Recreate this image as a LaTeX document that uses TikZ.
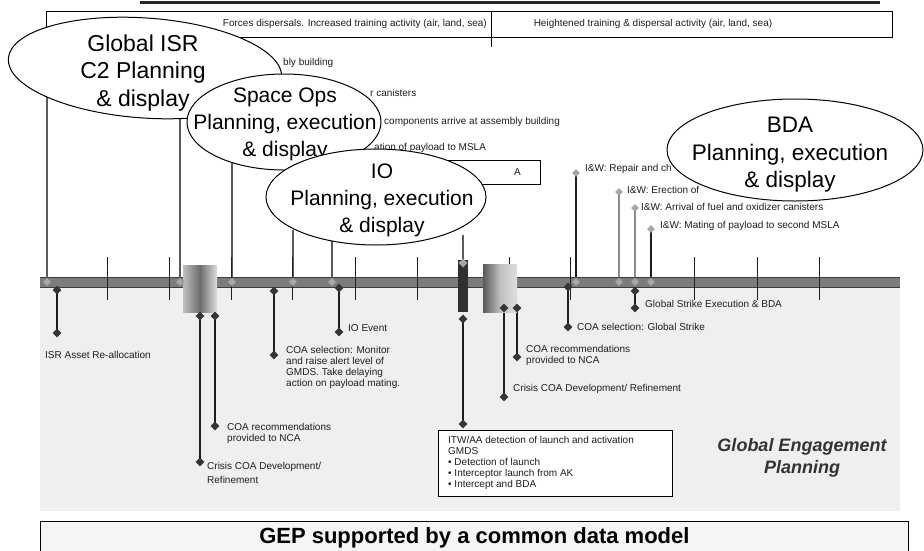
\documentclass[tikz,border=0pt]{standalone}
\usepackage{fontspec}
\setmainfont{Liberation Sans}
\usetikzlibrary{shapes.geometric}
\definecolor{bgfill}{HTML}{EFEFEF}
\definecolor{barfill}{HTML}{7C7C7C}
\definecolor{bardark}{HTML}{3C3C3C}
\definecolor{ink}{HTML}{1E1E1E}
\definecolor{ptrgray}{HTML}{5A5A5A}
\definecolor{ltdiam}{HTML}{A8A8A8}
\definecolor{midgray}{HTML}{8A8A8A}
\pgfdeclarelayer{back}
\pgfdeclarelayer{lines}
\pgfsetlayers{back,lines,main}
\begin{document}
\begin{tikzpicture}[x=1pt,y=-1pt,
  sm/.style={font=\fontsize{10}{11}\selectfont, text=ink, inner sep=0pt, anchor=west, align=left},
  bigtxt/.style={font=\fontsize{21}{27}\selectfont, align=center, inner sep=0pt},
  ddia/.style={diamond, fill=ink!90, inner sep=0pt, minimum width=9pt, minimum height=9pt},
  ldia/.style={diamond, fill=ltdiam, draw=gray, line width=0.4pt, inner sep=0pt, minimum width=9pt, minimum height=9pt},
  gdia/.style={diamond, fill=gray!70, inner sep=0pt, minimum width=8pt, minimum height=8pt},
  evl/.style={line width=2.2pt, draw=ink},
  evg/.style={line width=2pt, draw=midgray},
  ptr/.style={line width=1.3pt, draw=ptrgray},
  tickl/.style={line width=0.8pt, draw=ink},
  bubble/.style={draw=black, line width=1pt, fill=white},
]
\useasboundingbox (0,0) rectangle (924,550);

\begin{pgfonlayer}{back}
\fill[white] (0,0) rectangle (924,550);
\fill[bgfill] (40,287) rectangle (900,511);
\end{pgfonlayer}

% top line and box
\draw[line width=3pt, draw=gray!30!black] (140,2) -- (880,2);
\node[draw=black, line width=0.7pt, fill=white, minimum width=846pt, minimum height=26pt, anchor=north west, inner sep=0pt] (topbox) at (46,11) {};
\draw[line width=0.7pt] (491,11) -- (491,47);
\node[sm, anchor=east] (forces) at (487,24) {Forces dispersals. Increased training activity (air, land, sea)};
\node[sm, anchor=center] (heighten) at (653,24) {Heightened training \& dispersal activity (air, land, sea)};

% upper event labels (partly hidden)
\node[sm] (ev1) at (283,63) {bly building};
\node[sm] (ev2) at (370,93) {r canisters};
\node[sm] (ev3) at (384,122) {components arrive at assembly building};
\node[sm] (ev4) at (374,148) {ation of payload to MSLA};
\node[draw=black, line width=0.7pt, fill=white, minimum width=110pt, minimum height=24pt, anchor=north west, inner sep=0pt] (mslabox) at (430,160) {};
\node[sm] (ev5) at (514,172) {A};

% timeline bar
\fill[barfill] (40,277) rectangle (900,287);
\draw[bardark, line width=1pt] (40,277) -- (900,277) (40,287) -- (900,287);
\foreach \x in {107,169,231,292,355,417,509,570,694,757,819}
  \draw[tickl] (\x,257) -- (\x,300);

% cylinders and dark bar
\shade[left color=gray!50, right color=gray!25, middle color=gray!85!black] (183,265) rectangle (217,312);
\shade[left color=gray!70!black, right color=gray!25, middle color=gray!50] (483,264) rectangle (517,312);
\fill[bardark!80!black] (458,260) rectangle (468,312);

% upper pointers
\coordinate (u1) at (47,12);
\coordinate (u2) at (180,110);
\coordinate (u3) at (232,160);
\coordinate (u4) at (293,230);
\coordinate (u5) at (332,240);
\coordinate (u6) at (463,235);
\node[ldia] (d1) at (47,282) {};
\node[ldia] (d2) at (180,282) {};
\node[ldia] (d3) at (232,282) {};
\node[ldia] (d4) at (293,282) {};
\node[ldia] (d5) at (332,282) {};
\node[ldia] (d6) at (463,263) {};
\begin{pgfonlayer}{lines}
\draw[ptr] (u1) -- (d1.center);
\draw[ptr] (u2) -- (d2.center);
\draw[ptr] (u3) -- (d3.center);
\draw[ptr] (u4) -- (d4.center);
\draw[ptr] (u5) -- (d5.center);
\draw[ptr] (u6) -- (d6.center);
\end{pgfonlayer}

% I&W events
\node[gdia] (r1t) at (576,173) {};
\node[gdia] (r2t) at (619,192) {};
\node[gdia] (r3t) at (635,208) {};
\node[gdia] (r4t) at (651,229) {};
\node[ldia] (r1) at (576,282) {};
\node[ldia] (r2) at (619,282) {};
\node[ldia] (r3) at (635,282) {};
\node[ldia] (r4) at (651,282) {};
\begin{pgfonlayer}{lines}
\draw[evl, line width=2pt] (r1t.center) -- (r1.center);
\draw[evg] (r2t.center) -- (r2.center);
\draw[evg] (r3t.center) -- (r3.center);
\draw[evl, line width=2pt] (r4t.center) -- (r4.center);
\end{pgfonlayer}
\node[sm] (iw1) at (585,169) {I\&W: Repair and ch};
\node[sm] (iw2) at (627,190) {I\&W: Erection of};
\node[sm] (iw3) at (641,207) {I\&W: Arrival of fuel and oxidizer canisters};
\node[sm] (iw4) at (660,226) {I\&W: Mating of payload to second MSLA};

% lower events
\node[ddia] (a1) at (57,290) {};
\node[ddia] (a2) at (57,333) {};
\node[sm] (la) at (45,355) {ISR Asset Re-allocation};

\node[ddia] (c1a) at (200,316) {};
\node[ddia] (c1b) at (215,316) {};
\node[ddia] (c1a2) at (200,462) {};
\node[ddia] (c1b2) at (215,426) {};
\node[sm] (lc1b) at (227,433) {COA recommendations\\provided to NCA};
\node[sm] (lc1a) at (207,473) {Crisis COA Development/\\[3pt]Refinement};

\node[ddia] (m1) at (274,291) {};
\node[ddia] (m2) at (274,355) {};
\node[sm] (lm) at (286,367) {COA selection: Monitor\\and raise alert level of\\GMDS. Take delaying\\action on payload mating.};

\node[ddia] (i1) at (339,288) {};
\node[ddia] (i2) at (339,332) {};
\node[sm] (li) at (348,328) {IO Event};

\node[ddia] (b1) at (463,319) {};
\node[ddia] (b2) at (463,424) {};
\node[draw=black, line width=0.8pt, fill=white, anchor=north west, minimum width=234pt, minimum height=66pt, inner sep=0pt] (itw) at (438,430) {};
\node[sm, anchor=north west] (itwt) at (448,436) {ITW/AA detection of launch and activation\\GMDS\\\textbullet\ Detection of launch\\\textbullet\ Interceptor launch from AK\\\textbullet\ Intercept and BDA};

\node[ddia] (c2a) at (504,308) {};
\node[ddia] (c2b) at (517,308) {};
\node[ddia] (c2a2) at (504,397) {};
\node[ddia] (c2b2) at (517,357) {};
\node[sm] (lc2b) at (526,355) {COA recommendations\\provided to NCA};
\node[sm] (lc2a) at (513,389) {Crisis COA Development/ Refinement};

\node[ddia] (g1) at (568,287) {};
\node[ddia] (g2) at (568,327) {};
\node[sm] (lg) at (577,327) {COA selection: Global Strike};

\node[ddia] (e1) at (635,291) {};
\node[ddia] (e2) at (635,308) {};
\node[sm] (le) at (645,304) {Global Strike Execution \& BDA};

\begin{pgfonlayer}{lines}
\draw[evl] (a1.center) -- (a2.center);
\draw[evl] (c1a.center) -- (c1a2.center);
\draw[evl] (c1b.center) -- (c1b2.center);
\draw[evl] (m1.center) -- (m2.center);
\draw[evl] (i1.center) -- (i2.center);
\draw[evl] (b1.center) -- (b2.center);
\draw[evl] (c2a.center) -- (c2a2.center);
\draw[evl] (c2b.center) -- (c2b2.center);
\draw[evl] (g1.center) -- (g2.center);
\draw[evl] (e1.center) -- (e2.center);
\end{pgfonlayer}

\node[font=\bfseries\itshape\fontsize{18}{22}\selectfont, text=black!80, align=center, inner sep=0pt] (gepl) at (802,458) {Global Engagement\\Planning};

\node[draw=black, line width=0.8pt, fill=bgfill!60, minimum width=868pt, minimum height=32pt, anchor=north west, inner sep=0pt, font=\bfseries\fontsize{22}{26}\selectfont] (gep) at (40,521) {GEP supported by a common data model};

% bubbles
\draw[bubble, rotate around={-4:(145,68)}] (145,68) ellipse [x radius=137, y radius=50];
\node[bigtxt, font=\fontsize{23}{27.5}\selectfont] (isr) at (143,73) {Global ISR\\C2 Planning\\\& display};
\draw[bubble] (284,122) ellipse [x radius=97, y radius=48];
\node[bigtxt] (space) at (285,124) {Space Ops\\Planning, execution\\\& display};
\draw[bubble] (376,197) ellipse [x radius=110, y radius=48];
\node[bigtxt] (io) at (382,200) {IO\\Planning, execution\\\& display};
\draw[bubble] (795,150) ellipse [x radius=128, y radius=51];
\node[bigtxt, font=\fontsize{22.5}{27.5}\selectfont] (bda) at (790,155) {BDA\\Planning, execution\\\& display};
\end{tikzpicture}
\end{document}
